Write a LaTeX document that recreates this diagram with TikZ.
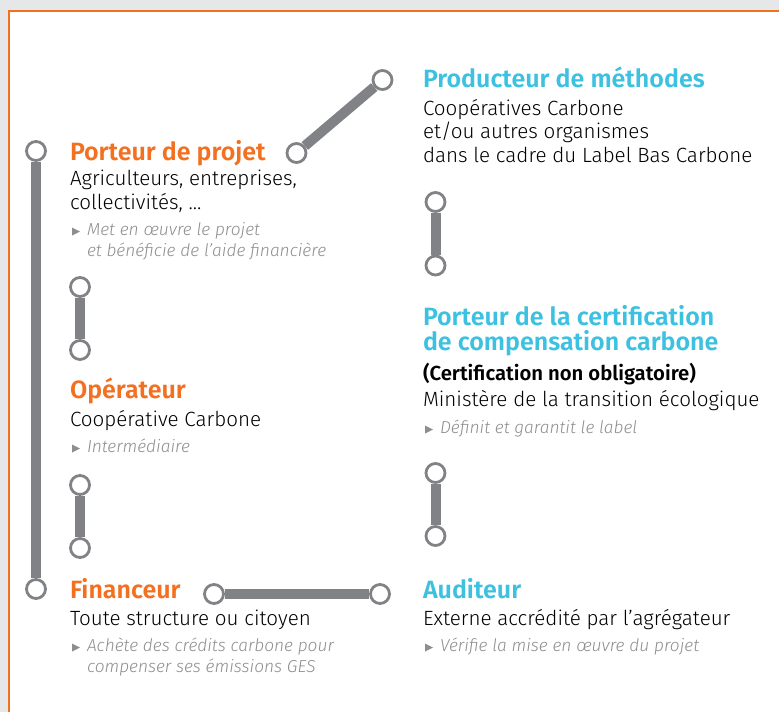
\documentclass[tikz,border=0pt]{standalone}
\usepackage{fontspec}
\setmainfont{Fira Sans Light}[BoldFont={Fira Sans SemiBold},ItalicFont={Fira Sans Light Italic}]
\definecolor{orng}{HTML}{F37021}
\definecolor{cyn}{HTML}{3DC1E1}
\definecolor{lgray}{HTML}{808285}
\definecolor{bgc}{HTML}{E6E7E8}
\definecolor{itgray}{HTML}{8C8E90}
\begin{document}
\begin{tikzpicture}[x=1pt,y=-1pt,
  pin/.style={circle,draw=lgray,fill=white,line width=2.8pt,minimum size=19pt,inner sep=0pt},
  bar/.style={draw=lgray,line width=10pt},
  txt/.style={anchor=base west,inner sep=0pt,outer sep=0pt,align=left},
  headO/.style={txt,font=\fontsize{25}{26}\selectfont\bfseries,text=orng},
  headC/.style={txt,font=\fontsize{25}{25.5}\selectfont\bfseries,text=cyn},
  body/.style={txt,font=\fontsize{20.6}{23.5}\selectfont,text=black},
  bbody/.style={txt,font=\fontsize{20.3}{20}\selectfont\bfseries,text=black},
  note/.style={txt,font=\fontsize{17.3}{20.5}\selectfont\itshape,text=itgray},
  tri/.style={fill=itgray}
]
\useasboundingbox (0,0) rectangle (779,712);
\fill[bgc] (0,0) rectangle (779,712);
\fill[white] (9,11) rectangle (779,712);
\draw[orng,line width=1.5pt] (9,712) -- (9,11) -- (779,11);

% connectors
\node[pin] (l1) at (36,151) {};
\node[pin] (l2) at (36,589) {};
\draw[bar] (l1) -- (l2);
\node[pin] (d1) at (296.5,153) {};
\node[pin] (d2) at (382.5,80) {};
\draw[bar] (d1) -- (d2);
\node[pin] (a1) at (80,287) {};
\node[pin] (a2) at (80,350) {};
\draw[bar] (a1) -- (a2);
\node[pin] (b1) at (80,485) {};
\node[pin] (b2) at (80,548) {};
\draw[bar] (b1) -- (b2);
\node[pin] (c1) at (435.5,202) {};
\node[pin] (c2) at (435.5,265.5) {};
\draw[bar] (c1) -- (c2);
\node[pin] (e1) at (435.5,473) {};
\node[pin] (e2) at (435.5,536) {};
\draw[bar] (e1) -- (e2);
\node[pin] (h1) at (214,594) {};
\node[pin] (h2) at (380,594) {};
\draw[bar] (h1) -- (h2);

% left column
\node[headO] (ppH) at (70,160) {Porteur de projet};
\node[body] (ppB) at (70,209) {Agriculteurs, entreprises,\\collectivités, ...};
\fill[tri] (72,227.5) -- (80,231.5) -- (72,235.5) -- cycle;
\node[note] (ppN) at (87,256) {Met en œuvre le projet\\et bénéficie de l’aide financière};

\node[headO] (opH) at (70,398.5) {Opérateur};
\node[body] (opB) at (70,426.5) {Coopérative Carbone};
\fill[tri] (72,444.5) -- (80,448.5) -- (72,452.5) -- cycle;
\node[note] (opN) at (87,452.5) {Intermédiaire};

\node[headO] (fiH) at (70,598) {Financeur};
\node[body] (fiB) at (70,625) {Toute structure ou citoyen};
\fill[tri] (72,643.5) -- (80,647.5) -- (72,651.5) -- cycle;
\node[note] (fiN) at (87,672) {Achète des crédits carbone pour\\compenser ses émissions GES};

% right column
\node[headC] (prH) at (423,87) {Producteur de méthodes};
\node[body] (prB) at (423,162) {Coopératives Carbone\\et/ou autres organismes\\dans le cadre du Label Bas Carbone};

\node[headC] (ceH) at (423,350.5) {Porteur de la certification\\de compensation carbone};
\node[bbody] (ceS) at (423,380.5) {(Certification non obligatoire)};
\node[body] (ceB) at (423,406.5) {Ministère de la transition écologique};
\fill[tri] (425,425.5) -- (433,429.5) -- (425,433.5) -- cycle;
\node[note] (ceN) at (440,433.5) {Définit et garantit le label};

\node[headC] (auH) at (423,598) {Auditeur};
\node[body] (auB) at (423,625) {Externe accrédité par l’agrégateur};
\fill[tri] (425,643.5) -- (433,647.5) -- (425,651.5) -- cycle;
\node[note] (auN) at (440,651.5) {Vérifie la mise en œuvre du projet};
\end{tikzpicture}
\end{document}
